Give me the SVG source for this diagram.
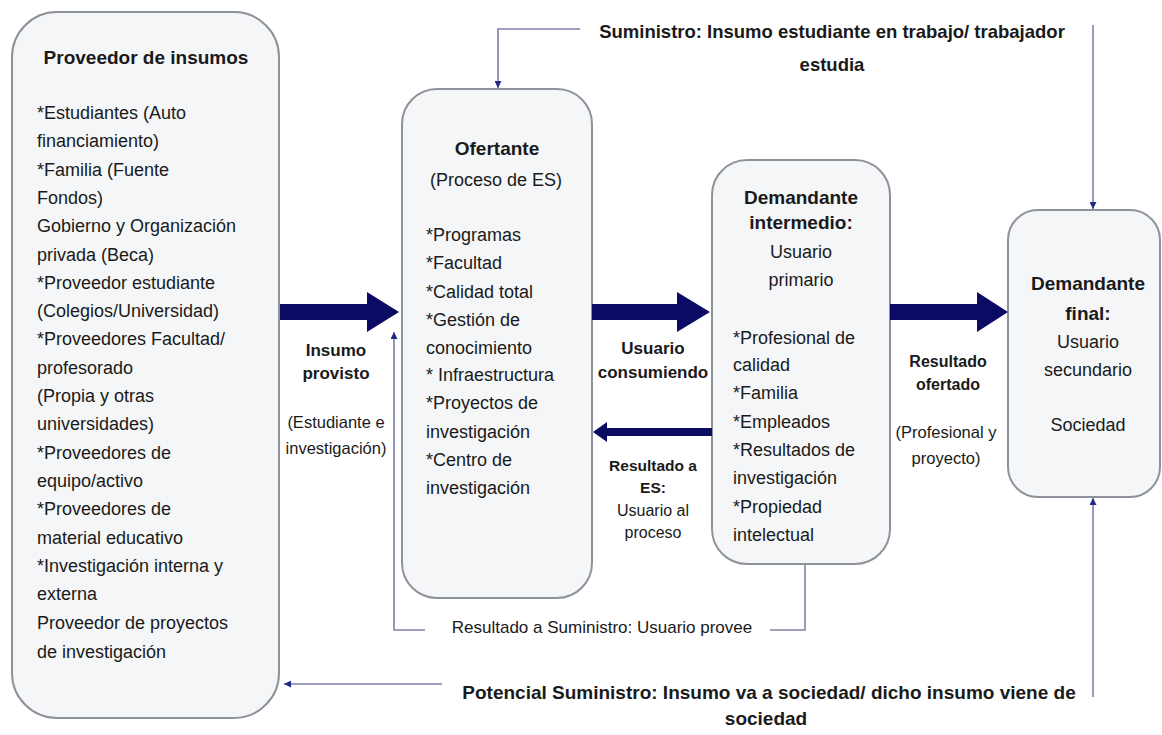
<svg xmlns="http://www.w3.org/2000/svg" width="1162" height="735" viewBox="0 0 1162 735">
<style>
  .box { fill: #f4f6f8; stroke: #8e929b; stroke-width: 2; }
  text { font-family: "Liberation Sans", Arial, sans-serif; fill: #1a1a1a; }
  .t { font-size: 18px; }
  .tb { font-size: 19px; font-weight: bold; }
  .lb { font-size: 17px; font-weight: bold; }
  .lr { font-size: 16.5px; }
  .mid { text-anchor: middle; }
  .big { fill: #0b0b63; }
  .thin { fill: none; stroke: #7e82a8; stroke-width: 1.6; }
</style>
<defs>
  <marker id="ah" viewBox="0 0 10 10" refX="10" refY="5" markerWidth="7" markerHeight="7" markerUnits="userSpaceOnUse" orient="auto">
    <path d="M0,0 L10,5 L0,10 z" fill="#1f2a88"/>
  </marker>
</defs>
<rect width="1162" height="735" fill="#ffffff"/>

<g id="proveedor">
  <rect class="box" x="12" y="12" width="267" height="706" rx="45" ry="45"/>
  <text class="tb mid" x="146" y="64">Proveedor de insumos</text>
  <text class="t">
    <tspan x="37" y="119">*Estudiantes (Auto</tspan>
    <tspan x="37" y="147">financiamiento)</tspan>
    <tspan x="37" y="176">*Familia (Fuente</tspan>
    <tspan x="37" y="204">Fondos)</tspan>
    <tspan x="37" y="232">Gobierno y Organización</tspan>
    <tspan x="37" y="261">privada (Beca)</tspan>
    <tspan x="37" y="289">*Proveedor estudiante</tspan>
    <tspan x="37" y="317">(Colegios/Universidad)</tspan>
    <tspan x="37" y="345">*Proveedores Facultad/</tspan>
    <tspan x="37" y="374">profesorado</tspan>
    <tspan x="37" y="402">(Propia y otras</tspan>
    <tspan x="37" y="430">universidades)</tspan>
    <tspan x="37" y="459">*Proveedores de</tspan>
    <tspan x="37" y="487">equipo/activo</tspan>
    <tspan x="37" y="515">*Proveedores de</tspan>
    <tspan x="37" y="544">material educativo</tspan>
    <tspan x="37" y="572">*Investigación interna y</tspan>
    <tspan x="37" y="600">externa</tspan>
    <tspan x="37" y="629">Proveedor de proyectos</tspan>
    <tspan x="37" y="658">de investigación</tspan>
  </text>
</g>

<g id="ofertante">
  <rect class="box" x="402" y="89" width="190" height="509" rx="35" ry="35"/>
  <text class="tb mid" x="497" y="155">Ofertante</text>
  <text class="t mid" x="496" y="186">(Proceso de ES)</text>
  <text class="t">
    <tspan x="426" y="241">*Programas</tspan>
    <tspan x="426" y="269">*Facultad</tspan>
    <tspan x="426" y="298">*Calidad total</tspan>
    <tspan x="426" y="326">*Gestión de</tspan>
    <tspan x="426" y="354">conocimiento</tspan>
    <tspan x="426" y="381">* Infraestructura</tspan>
    <tspan x="426" y="409">*Proyectos de</tspan>
    <tspan x="426" y="438">investigación</tspan>
    <tspan x="426" y="466">*Centro de</tspan>
    <tspan x="426" y="494">investigación</tspan>
  </text>
</g>

<g id="demandante-intermedio">
  <rect class="box" x="712" y="160" width="178" height="404" rx="35" ry="35"/>
  <text class="tb mid" x="801" y="204">Demandante</text>
  <text class="tb mid" x="801" y="229">intermedio:</text>
  <text class="t mid" x="801" y="258">Usuario</text>
  <text class="t mid" x="801" y="286">primario</text>
  <text class="t">
    <tspan x="733" y="344">*Profesional de</tspan>
    <tspan x="733" y="371">calidad</tspan>
    <tspan x="733" y="399">*Familia</tspan>
    <tspan x="733" y="428">*Empleados</tspan>
    <tspan x="733" y="456">*Resultados de</tspan>
    <tspan x="733" y="484">investigación</tspan>
    <tspan x="733" y="513">*Propiedad</tspan>
    <tspan x="733" y="541">intelectual</tspan>
  </text>
</g>

<g id="demandante-final">
  <rect class="box" x="1008" y="210" width="152" height="287" rx="30" ry="30"/>
  <text class="tb mid" x="1088" y="290">Demandante</text>
  <text class="tb mid" x="1088" y="320">final:</text>
  <text class="t mid" x="1088" y="348">Usuario</text>
  <text class="t mid" x="1088" y="376">secundario</text>
  <text class="t mid" x="1088" y="431">Sociedad</text>
</g>

<g id="connectors">
  <polygon class="big" points="280,304 367,304 367,292 399,312 367,332 367,320 280,320"/>
  <polygon class="big" points="592,304 677,304 677,292 710,312 677,332 677,320 592,320"/>
  <polygon class="big" points="890,304 977,304 977,292 1008,312 977,332 977,320 890,320"/>
  <polygon class="big" points="712,428 607,428 607,422 593,432 607,442 607,436 712,436"/>

  <polyline class="thin" points="580,29 498,29 498,88" marker-end="url(#ah)"/>
  <line class="thin" x1="1093" y1="25" x2="1093" y2="209" marker-end="url(#ah)"/>
  <polyline class="thin" points="805,565 805,630 770,630"/>
  <polyline class="thin" points="425,630 394,630 394,332" marker-end="url(#ah)"/>
  <line class="thin" x1="442" y1="684" x2="284" y2="684" marker-end="url(#ah)"/>
  <line class="thin" x1="1093" y1="697" x2="1093" y2="498" marker-end="url(#ah)"/>

  <text class="lb mid" x="336" y="356">Insumo</text>
  <text class="lb mid" x="336" y="379">provisto</text>
  <text class="lr mid" x="336" y="428">(Estudiante e</text>
  <text class="lr mid" x="336" y="454">investigación)</text>

  <text class="lb mid" x="653" y="354">Usuario</text>
  <text class="lb mid" x="653" y="378">consumiendo</text>

  <text class="mid" style="font-size:15.5px;font-weight:bold" x="653" y="471">Resultado a</text>
  <text class="mid" style="font-size:15.5px;font-weight:bold" x="653" y="493">ES:</text>
  <text class="mid" style="font-size:16px" x="653" y="516">Usuario al</text>
  <text class="mid" style="font-size:16px" x="653" y="538">proceso</text>

  <text class="mid" style="font-size:16px;font-weight:bold" x="948" y="367">Resultado</text>
  <text class="mid" style="font-size:16px;font-weight:bold" x="948" y="390">ofertado</text>
  <text class="lr mid" x="946" y="438">(Profesional y</text>
  <text class="lr mid" x="946" y="464">proyecto)</text>

  <text class="mid" style="font-size:18.5px;font-weight:bold" x="832" y="38">Suministro: Insumo estudiante en trabajo/ trabajador</text>
  <text class="mid" style="font-size:18.5px;font-weight:bold" x="832" y="71">estudia</text>

  <text class="mid" style="font-size:17px" x="602" y="633">Resultado a Suministro: Usuario provee</text>

  <text class="mid" style="font-size:19px;font-weight:bold" x="769" y="699">Potencial Suministro: Insumo va a sociedad/ dicho insumo viene de</text>
  <text class="mid" style="font-size:19px;font-weight:bold" x="766" y="725">sociedad</text>
</g>
</svg>
